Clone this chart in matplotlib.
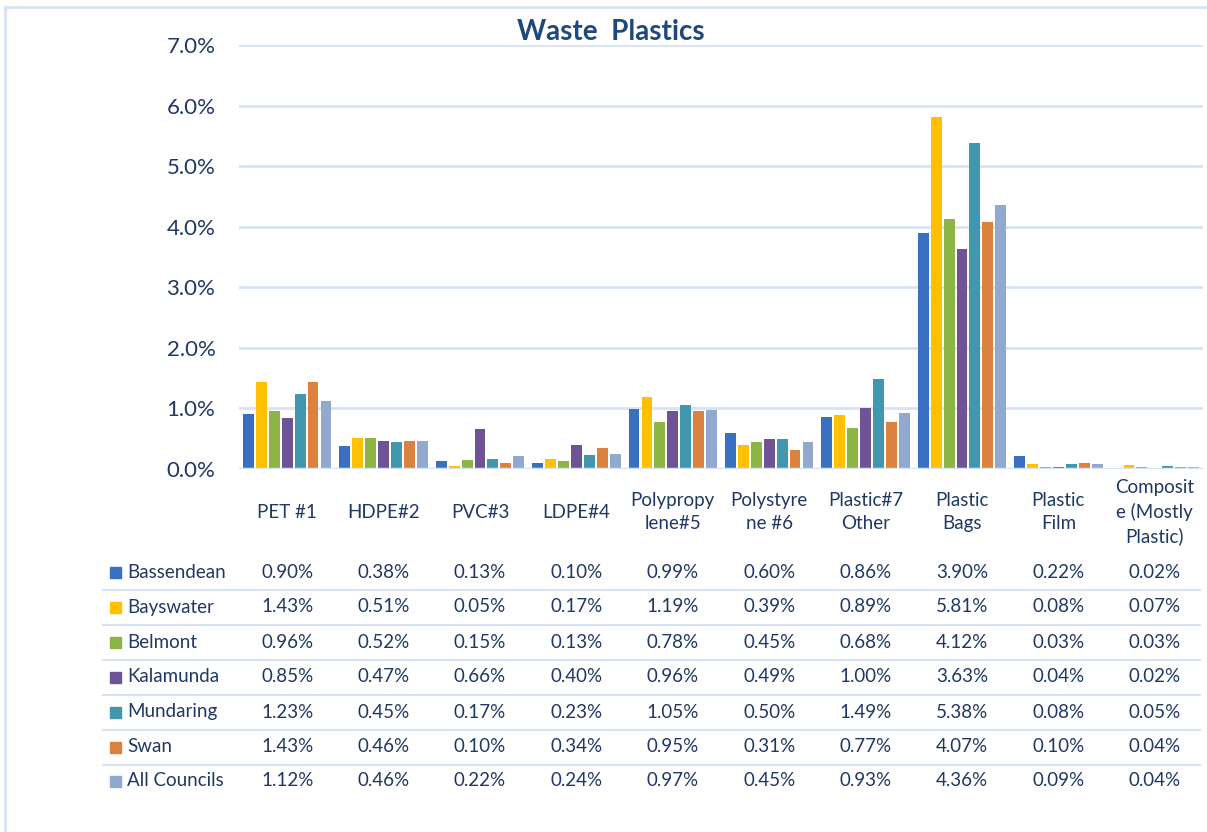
import numpy as np
import matplotlib
matplotlib.use('Agg')
import matplotlib.pyplot as plt
from matplotlib import transforms
from matplotlib.patches import Rectangle

plt.rcParams['font.family'] = ['Lato', 'DejaVu Sans']

# Datos
categorias = ['PET #1', 'HDPE#2', 'PVC#3', 'LDPE#4', 'Polypropy\nlene#5',
              'Polystyre\nne #6', 'Plastic#7\nOther', 'Plastic\nBags',
              'Plastic\nFilm', 'Composit\ne (Mostly\nPlastic)']
consejos = ['Bassendean', 'Bayswater', 'Belmont', 'Kalamunda',
            'Mundaring', 'Swan', 'All Councils']

bassendean = [0.90, 0.38, 0.13, 0.10, 0.99, 0.60, 0.86, 3.90, 0.22, 0.02]
bayswater = [1.43, 0.51, 0.05, 0.17, 1.19, 0.39, 0.89, 5.81, 0.08, 0.07]
belmont = [0.96, 0.52, 0.15, 0.13, 0.78, 0.45, 0.68, 4.12, 0.03, 0.03]
kalamunda = [0.85, 0.47, 0.66, 0.40, 0.96, 0.49, 1.00, 3.63, 0.04, 0.02]
mundaring = [1.23, 0.45, 0.17, 0.23, 1.05, 0.50, 1.49, 5.38, 0.08, 0.05]
swan = [1.43, 0.46, 0.10, 0.34, 0.95, 0.31, 0.77, 4.07, 0.10, 0.04]
all_councils = [1.12, 0.46, 0.22, 0.24, 0.97, 0.45, 0.93, 4.36, 0.09, 0.04]

series = [bassendean, bayswater, belmont, kalamunda, mundaring, swan, all_councils]
colores = ['#3A70C2', '#FFC000', '#8CB545', '#6E5494', '#4197AE', '#DB833E', '#92A9CF']

texto = '#1F3864'
linea = '#D7E3F4'

fig = plt.figure(figsize=(12.07, 8.32), dpi=100)
W, H = 1207, 832

# marco exterior
fig.patches.append(Rectangle((5 / W, -0.05), 1.2, 1.05 - 7 / H, transform=fig.transFigure,
                             fill=False, edgecolor=linea, linewidth=2))

ax = fig.add_axes([239 / W, 1 - 469 / H, (1203 - 239) / W, (469 - 45) / H])
x = np.arange(len(categorias))
ancho = 0.113
paso = 0.134
for i, (vals, c) in enumerate(zip(series, colores)):
    ax.bar(x + (i - 3) * paso, np.array(vals) / 100, width=ancho, color=c, zorder=3)

ax.set_xlim(-0.5, len(categorias) - 0.5)
ax.set_ylim(0, 0.07)
ax.set_yticks(np.arange(0, 0.071, 0.01))
ax.set_yticklabels([f'{v * 100:.1f}%' for v in np.arange(0, 0.071, 0.01)])
ax.tick_params(axis='y', length=0, pad=17, labelsize=16, labelcolor=texto)
ax.set_xticks([])
ax.grid(axis='y', color=linea, linewidth=2, zorder=0)
for s in ax.spines.values():
    s.set_visible(False)
ax.axhline(0, color=linea, linewidth=2.5, zorder=4)

fig.text(611 / W, 1 - 32 / H, 'Waste  Plastics', ha='center', va='center',
         fontsize=20, fontweight='bold', color='#1F497D')

tr = transforms.blended_transform_factory(ax.transData, fig.transFigure)

# etiquetas de categoría
for xi, cat in zip(x, categorias):
    ax.text(xi, 1 - 512 / H, cat, transform=tr, ha='center', va='center',
            fontsize=13.5, color=texto, linespacing=1.45)

# tabla de datos
filas_y = [572, 607, 642, 677, 712, 747, 781]
for nombre, vals, c, py in zip(consejos, series, colores, filas_y):
    yf = 1 - py / H
    fig.patches.append(Rectangle((110 / W, yf - 5.5 / H), 11 / W, 11 / H,
                                 transform=fig.transFigure, color=c))
    fig.text(127 / W, yf, nombre, ha='left', va='center', fontsize=13.5, color=texto)
    for xi, v in zip(x, vals):
        ax.text(xi, yf, f'{v:.2f}%', transform=tr, ha='center', va='center',
                fontsize=13.5, color=texto)

for py in filas_y[:-1]:
    yl = 1 - (py + 17.5) / H
    fig.add_artist(plt.Line2D([103 / W, 1200 / W], [yl, yl], transform=fig.transFigure,
                              color=linea, linewidth=1.5))

fig.savefig('out.png', dpi=100)
